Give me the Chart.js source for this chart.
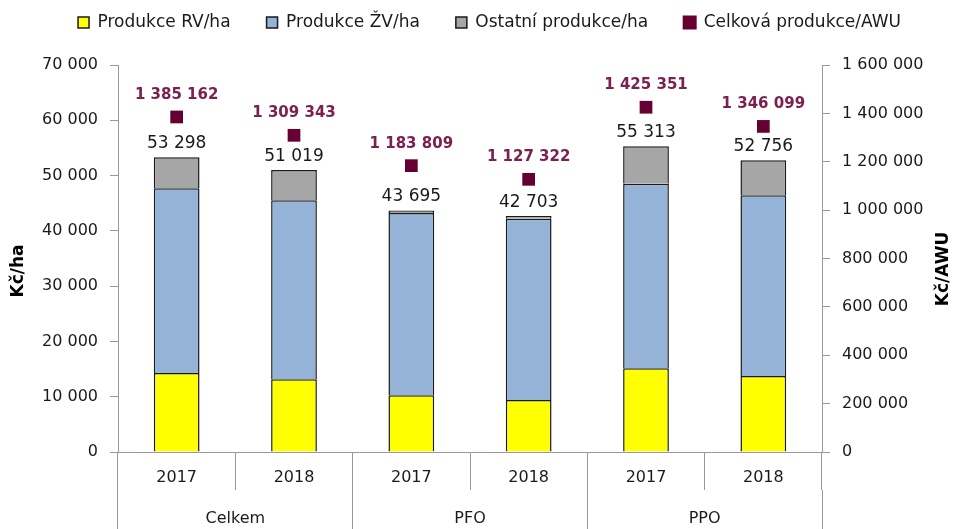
<!DOCTYPE html>
<html>
<head>
<meta charset="utf-8">
<script src="https://cdn.jsdelivr.net/npm/chart.js@4/dist/chart.umd.min.js"></script>
<style>
  html, body { margin: 0; padding: 0; background: #fff; }
  #wrap { width: 955px; height: 529px; }
</style>
</head>
<body>
<div id="wrap"><canvas id="chart" width="955" height="529"></canvas></div>
<script>
const years = ['2017', '2018', '2017', '2018', '2017', '2018'];
const groups = ['Celkem', 'PFO', 'PPO'];
const rvPerHa = [14300, 13150, 10250, 9400, 15150, 13750];
const zvPerHa = [33400, 32400, 33000, 32800, 33350, 32700];
const otherPerHa = [5600, 5450, 450, 500, 6800, 6300];
const totalPerHa = [53298, 51019, 43695, 42703, 55313, 52756];
const totalPerAwu = [1385162, 1309343, 1183809, 1127322, 1425351, 1346099];

const fmt = (n) => String(n).replace(/\B(?=(\d{3})+(?!\d))/g, ' ');
const font = 'DejaVu Sans';
const gridColor = '#999999';
const legendGap = 36;

// fixed legend block height, and pull the legend row back up after widening the gaps
const legendHeight = {
  id: 'legendHeight',
  beforeInit(chart) {
    const fit = chart.legend.fit;
    chart.legend.fit = function () {
      fit.call(this);
      this.height = 65;
    };
    const draw = chart.legend.draw;
    chart.legend.draw = function () {
      this.ctx.save();
      this.ctx.translate(12, 14 - legendGap);
      draw.call(this);
      this.ctx.restore();
    };
  }
};

const labels = {
  id: 'labels',
  afterDatasetsDraw(chart) {
    const ctx = chart.ctx;
    ctx.save();
    ctx.textAlign = 'center';
    ctx.textBaseline = 'alphabetic';
    ctx.font = '17px "' + font + '"';
    ctx.fillStyle = '#1a1a1a';
    chart.getDatasetMeta(2).data.forEach((bar, i) => {
      ctx.fillText(fmt(totalPerHa[i]), bar.x, bar.y - 9);
    });
    ctx.font = 'bold 15px "' + font + '"';
    ctx.fillStyle = '#7b2050';
    chart.getDatasetMeta(3).data.forEach((pt, i) => {
      ctx.fillText(fmt(totalPerAwu[i]), pt.x, pt.y - 18);
    });
    // axis titles
    ctx.font = 'bold 17px "' + font + '"';
    ctx.fillStyle = '#000';
    ctx.textBaseline = 'middle';
    [[19, 271, 'Kč/ha'], [944, 269, 'Kč/AWU']].forEach(([x, y, t]) => {
      ctx.save();
      ctx.translate(x, y);
      ctx.rotate(-Math.PI / 2);
      ctx.fillText(t, 0, 0);
      ctx.restore();
    });
    ctx.restore();
  }
};

const barStyle = { borderColor: '#1a1a1a', borderWidth: 1.5, categoryPercentage: 1, barPercentage: 0.39, yAxisID: 'y', stack: 's' };

new Chart(document.getElementById('chart'), {
  data: {
    labels: years,
    datasets: [
      { type: 'bar', label: 'Produkce RV/ha', data: rvPerHa, backgroundColor: '#ffff00', ...barStyle },
      { type: 'bar', label: 'Produkce ŽV/ha', data: zvPerHa, backgroundColor: '#95b3d7', ...barStyle },
      { type: 'bar', label: 'Ostatní produkce/ha', data: otherPerHa, backgroundColor: '#a6a6a6', ...barStyle },
      {
        type: 'line', label: 'Celková produkce/AWU', data: totalPerAwu, yAxisID: 'y1',
        showLine: false, pointStyle: 'rect', pointRadius: 9, pointHoverRadius: 9,
        backgroundColor: '#660033', borderColor: '#660033', pointBorderWidth: 0
      }
    ]
  },
  options: {
    responsive: false,
    animation: false,
    layout: { padding: 0 },
    plugins: {
      tooltip: { enabled: false },
      legend: {
        position: 'top',
        labels: {
          font: { family: font, size: 17 },
          color: '#1a1a1a',
          boxWidth: 11,
          boxHeight: 11,
          padding: legendGap
        }
      }
    },
    scales: {
      x: {
        type: 'category',
        position: 'bottom',
        weight: 0,
        offset: true,
        grid: { offset: true, drawOnChartArea: false, drawTicks: true, tickLength: 38, color: gridColor },
        border: { display: true, color: gridColor },
        ticks: { font: { family: font, size: 16 }, color: '#1a1a1a', padding: -22, maxRotation: 0, autoSkip: false },
        afterFit: (s) => { s.height = 38; }
      },
      x2: {
        type: 'category',
        labels: groups,
        position: 'bottom',
        weight: 1,
        offset: true,
        grid: { offset: true, drawOnChartArea: false, drawTicks: true, tickLength: 39, color: gridColor },
        border: { display: false },
        ticks: { font: { family: font, size: 16 }, color: '#1a1a1a', padding: -20, maxRotation: 0, autoSkip: false },
        afterFit: (s) => { s.height = 39; }
      },
      y: {
        position: 'left',
        stacked: true,
        min: 0,
        max: 70000,
        ticks: { stepSize: 10000, callback: (v) => fmt(v), font: { family: font, size: 16 }, color: '#1a1a1a', padding: 12 },
        grid: { drawOnChartArea: false, tickLength: 8, color: gridColor },
        border: { color: gridColor },
        afterFit: (s) => { s.width = 118; }
      },
      y1: {
        position: 'right',
        min: 0,
        max: 1600000,
        ticks: { stepSize: 200000, callback: (v) => fmt(v), font: { family: font, size: 16 }, color: '#1a1a1a', padding: 12 },
        grid: { drawOnChartArea: false, tickLength: 8, color: gridColor },
        border: { color: gridColor },
        afterFit: (s) => { s.width = 133; }
      }
    }
  },
  plugins: [legendHeight, labels]
});
</script>
</body>
</html>
